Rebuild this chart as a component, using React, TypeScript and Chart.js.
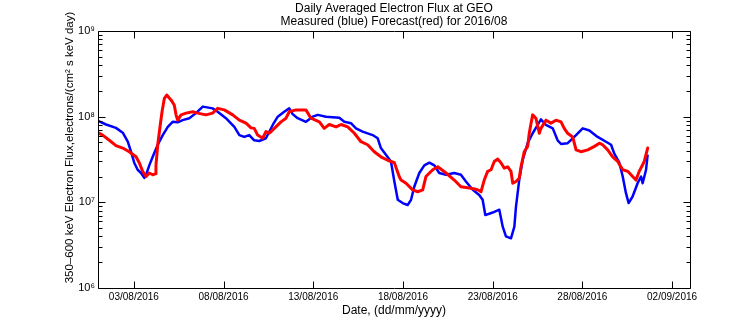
import React, { useEffect, useRef } from 'react';
import { Chart, registerables } from 'chart.js';

Chart.register(...registerables);

const FONT = "'Liberation Sans', Arial, Helvetica, sans-serif";

const titleLines = ['Daily Averaged Electron Flux at GEO', 'Measured (blue) Forecast(red) for 2016/08'];
const xTitle = 'Date, (dd/mm/yyyy)';
const yTitle = '350\u2013600 keV Electron Flux,electrons/(cm\u00b2 s keV day)';

// x values are days since 01/08/2016
const X_MIN = 0;
const X_MAX = 33;
const xTickDays = [2, 7, 12, 17, 22, 27, 32];
const xTickLabels = ['03/08/2016', '08/08/2016', '13/08/2016', '18/08/2016', '23/08/2016', '28/08/2016', '02/09/2016'];

const Y_MIN = 1e6;
const Y_MAX = 1e9;
const yTickValues = [1e6, 1e7, 1e8, 1e9];
const yTickLabels = ['10\u2076', '10\u2077', '10\u2078', '10\u2079'];

// Measured (blue)
const blueDays = [
  0, 0.45, 1.0, 1.38, 1.66, 1.84, 2.02, 2.21, 2.40, 2.58,
  2.68, 2.86, 3.05, 3.33, 3.61, 3.89, 4.16, 4.44, 4.72, 5.09,
  5.46, 5.84, 6.39, 6.67, 7.13, 7.60, 7.88, 8.15, 8.43, 8.71,
  8.99, 9.36, 9.74, 10.02, 10.38, 10.66, 10.85, 11.13, 11.59, 11.97,
  12.25, 12.71, 13.45, 13.73, 14.10, 14.38, 14.75, 15.31, 15.59, 15.77,
  16.05, 16.33, 16.52, 16.71, 16.98, 17.26, 17.45, 17.63, 17.91, 18.19,
  18.47, 18.75, 19.02, 19.40, 19.86, 20.23, 20.51, 20.89, 21.25, 21.44,
  21.59, 22.00, 22.37, 22.56, 22.74, 23.02, 23.21, 23.30, 23.48, 23.67,
  23.95, 24.23, 24.51, 24.69, 24.97, 25.35, 25.62, 25.81, 26.18, 26.55,
  27.02, 27.39, 27.85, 28.32, 28.60, 28.78, 29.06, 29.25, 29.43, 29.58,
  29.80, 30.08, 30.27, 30.36, 30.55, 30.64,
];
const blueFlux = [
  8.9e7, 8.1e7, 7.4e7, 6.5e7, 5.1e7, 3.9e7, 2.9e7, 2.4e7, 2.2e7, 1.93e7,
  2.1e7, 2.7e7, 3.4e7, 4.7e7, 6.1e7, 7.6e7, 8.7e7, 8.6e7, 9.1e7, 9.6e7,
  1.10e8, 1.31e8, 1.25e8, 1.14e8, 9.6e7, 7.6e7, 6.1e7, 5.8e7, 6.1e7, 5.3e7,
  5.2e7, 5.6e7, 8.0e7, 1.0e8, 1.14e8, 1.25e8, 1.07e8, 9.6e7, 8.7e7, 1.0e8,
  1.05e8, 1.0e8, 9.7e7, 8.7e7, 8.4e7, 7.3e7, 6.7e7, 6.1e7, 5.6e7, 4.3e7,
  3.6e7, 3.0e7, 1.75e7, 1.07e7, 9.8e6, 9.3e6, 1.07e7, 1.52e7, 2.2e7, 2.7e7,
  2.9e7, 2.7e7, 2.2e7, 2.1e7, 2.2e7, 2.1e7, 1.75e7, 1.40e7, 1.22e7, 1.07e7,
  7.1e6, 7.6e6, 8.2e6, 5.2e6, 4.0e6, 3.8e6, 5.2e6, 8.9e6, 1.82e7, 3.1e7,
  4.9e7, 6.4e7, 8.0e7, 9.3e7, 8.0e7, 7.3e7, 5.3e7, 4.8e7, 4.9e7, 5.8e7,
  7.3e7, 6.9e7, 5.8e7, 5.1e7, 4.7e7, 3.7e7, 2.9e7, 2.0e7, 1.28e7, 9.8e6,
  1.17e7, 1.67e7, 2.0e7, 1.67e7, 2.4e7, 3.6e7,
];

// Forecast (red)
const redDays = [
  0, 0.26, 0.63, 1.0, 1.38, 1.74, 2.12, 2.30, 2.49, 2.68,
  2.86, 3.05, 3.19, 3.23, 3.33, 3.47, 3.57, 3.70, 3.83, 4.07,
  4.25, 4.35, 4.44, 4.63, 4.91, 5.28, 5.56, 6.02, 6.39, 6.67,
  7.04, 7.51, 7.88, 8.25, 8.53, 8.71, 8.90, 9.18, 9.36, 9.55,
  9.83, 10.20, 10.48, 10.66, 11.04, 11.59, 11.87, 12.34, 12.61, 12.89,
  13.27, 13.55, 13.92, 14.29, 14.66, 15.03, 15.40, 15.77, 16.15, 16.52,
  16.79, 16.89, 17.17, 17.54, 17.82, 18.10, 18.28, 18.66, 18.94, 19.40,
  19.86, 20.23, 20.79, 21.16, 21.35, 21.53, 21.72, 21.91, 22.09, 22.28,
  22.46, 22.65, 22.84, 23.02, 23.12, 23.30, 23.48, 23.58, 23.76, 23.95,
  24.04, 24.14, 24.23, 24.41, 24.60, 24.69, 24.97, 25.25, 25.53, 25.81,
  25.99, 26.18, 26.46, 26.65, 26.92, 27.30, 27.67, 27.95, 28.13, 28.41,
  28.69, 28.97, 29.25, 29.53, 29.80, 29.99, 30.17, 30.45, 30.64,
];
const redFlux = [
  6.5e7, 6.1e7, 5.3e7, 4.6e7, 4.3e7, 3.9e7, 3.4e7, 2.9e7, 2.3e7, 2.0e7,
  2.2e7, 2.1e7, 2.15e7, 2.7e7, 4.7e7, 8.0e7, 1.14e8, 1.64e8, 1.79e8, 1.57e8,
  1.37e8, 1.05e8, 9.1e7, 1.05e8, 1.10e8, 1.14e8, 1.10e8, 1.05e8, 1.10e8, 1.25e8,
  1.20e8, 1.05e8, 9.1e7, 8.4e7, 7.4e7, 7.3e7, 6.1e7, 5.6e7, 6.7e7, 6.4e7,
  7.3e7, 8.7e7, 9.6e7, 1.14e8, 1.20e8, 1.20e8, 9.6e7, 8.7e7, 7.3e7, 8.1e7,
  7.6e7, 8.1e7, 7.6e7, 6.4e7, 5.1e7, 4.7e7, 3.9e7, 3.4e7, 3.1e7, 2.9e7,
  2.0e7, 1.82e7, 1.67e7, 1.40e7, 1.33e7, 1.40e7, 2.0e7, 2.4e7, 2.6e7, 2.2e7,
  1.82e7, 1.52e7, 1.46e7, 1.40e7, 1.33e7, 1.82e7, 2.3e7, 2.4e7, 3.0e7, 3.2e7,
  2.9e7, 2.5e7, 2.6e7, 2.3e7, 1.67e7, 1.75e7, 1.91e7, 2.6e7, 3.9e7, 4.5e7,
  6.4e7, 8.4e7, 1.05e8, 9.6e7, 6.4e7, 7.3e7, 9.1e7, 8.4e7, 9.1e7, 8.7e7,
  7.3e7, 6.4e7, 5.8e7, 4.1e7, 3.9e7, 4.1e7, 4.5e7, 4.9e7, 4.7e7, 4.1e7,
  3.4e7, 3.0e7, 2.4e7, 2.3e7, 2.0e7, 1.82e7, 2.3e7, 3.0e7, 4.3e7,
];

const framePlugin = {
  id: 'matlabFrame',
  afterDraw(chart: any) {
    const { ctx, chartArea } = chart;
    const { left, right, top, bottom } = chartArea;
    const xs = chart.scales.x;
    const ys = chart.scales.y;
    ctx.save();
    ctx.strokeStyle = '#000';
    ctx.lineWidth = 1;
    const L = Math.round(left) + 0.5;
    const R = Math.round(right) + 0.5;
    const T = Math.round(top) + 0.5;
    const B = Math.round(bottom) + 0.5;
    ctx.beginPath();
    ctx.rect(L, T, R - L, B - T);
    xTickDays.forEach((d) => {
      const px = Math.round(xs.getPixelForValue(d)) + 0.5;
      ctx.moveTo(px, B);
      ctx.lineTo(px, B - 7);
      ctx.moveTo(px, T);
      ctx.lineTo(px, T + 7);
    });
    for (let e = 6; e <= 9; e++) {
      for (let m = 1; m <= 9; m++) {
        if (e === 9 && m > 1) break;
        const v = m * Math.pow(10, e);
        const py = Math.round(ys.getPixelForValue(v)) + 0.5;
        const len = m === 1 ? 7 : 4;
        ctx.moveTo(L, py);
        ctx.lineTo(L + len, py);
        ctx.moveTo(R, py);
        ctx.lineTo(R - len, py);
      }
    }
    ctx.stroke();

    ctx.fillStyle = '#000';
    ctx.textAlign = 'center';
    ctx.textBaseline = 'middle';
    ctx.font = `12px ${FONT}`;
    const cx = (left + right) / 2;
    ctx.fillText(titleLines[0], cx, 8.5);
    ctx.fillText(titleLines[1], cx, 21.5);
    ctx.fillText(xTitle, cx, 310.5);
    ctx.translate(70, 147.5);
    ctx.rotate(-Math.PI / 2);
    ctx.font = `11.5px ${FONT}`;
    ctx.fillText(yTitle, 0, 0);
    ctx.restore();
  },
};

export default function App() {
  const canvasRef = useRef<HTMLCanvasElement | null>(null);

  useEffect(() => {
    document.body.style.margin = '0';
    const canvas = canvasRef.current;
    if (!canvas) return;
    Chart.defaults.font.family = FONT;
    Chart.defaults.color = '#000';

    const chart = new Chart(canvas, {
      type: 'line',
      data: {
        datasets: [
          {
            label: 'Forecast',
            data: redDays.map((d, i) => ({ x: d, y: redFlux[i] })),
            borderColor: '#ff0000',
            backgroundColor: '#ff0000',
            borderWidth: 3,
            pointRadius: 0,
            tension: 0,
            borderJoinStyle: 'round',
            borderCapStyle: 'round',
          },
          {
            label: 'Measured',
            data: blueDays.map((d, i) => ({ x: d, y: blueFlux[i] })),
            borderColor: '#0000ff',
            backgroundColor: '#0000ff',
            borderWidth: 2.5,
            pointRadius: 0,
            tension: 0,
            borderJoinStyle: 'round',
          },
        ],
      },
      options: {
        responsive: false,
        maintainAspectRatio: false,
        animation: false,
        devicePixelRatio: 1,
        layout: { padding: { top: 31, right: 66, left: 0, bottom: 0 } },
        plugins: {
          legend: { display: false },
          title: { display: false },
          tooltip: { enabled: false },
        },
        scales: {
          x: {
            type: 'linear',
            min: X_MIN,
            max: X_MAX,
            grid: { display: false, drawTicks: false },
            border: { display: false },
            afterBuildTicks: (s: any) => {
              s.ticks = xTickDays.map((v) => ({ value: v }));
            },
            afterFit: (s: any) => {
              s.height = 36;
            },
            ticks: {
              autoSkip: false,
              maxRotation: 0,
              minRotation: 0,
              padding: 3,
              color: '#000',
              font: { size: 10, family: FONT },
              callback: (v: any) => xTickLabels[xTickDays.indexOf(Number(v))] ?? '',
            },
          },
          y: {
            type: 'logarithmic',
            min: Y_MIN,
            max: Y_MAX,
            grid: { display: false, drawTicks: false },
            border: { display: false },
            afterBuildTicks: (s: any) => {
              s.ticks = yTickValues.map((v) => ({ value: v, major: true }));
            },
            afterFit: (s: any) => {
              s.width = 98;
            },
            ticks: {
              autoSkip: false,
              padding: 3,
              color: '#000',
              font: { size: 11, family: FONT },
              callback: (v: any) => yTickLabels[yTickValues.indexOf(Number(v))] ?? '',
            },
          },
        },
      },
      plugins: [framePlugin],
    } as any);

    return () => chart.destroy();
  }, []);

  return (
    <div style={{ position: 'absolute', left: 0, top: 0, width: 756, height: 324, background: '#fff' }}>
      <canvas ref={canvasRef} width={756} height={324} style={{ display: 'block' }} />
    </div>
  );
}
